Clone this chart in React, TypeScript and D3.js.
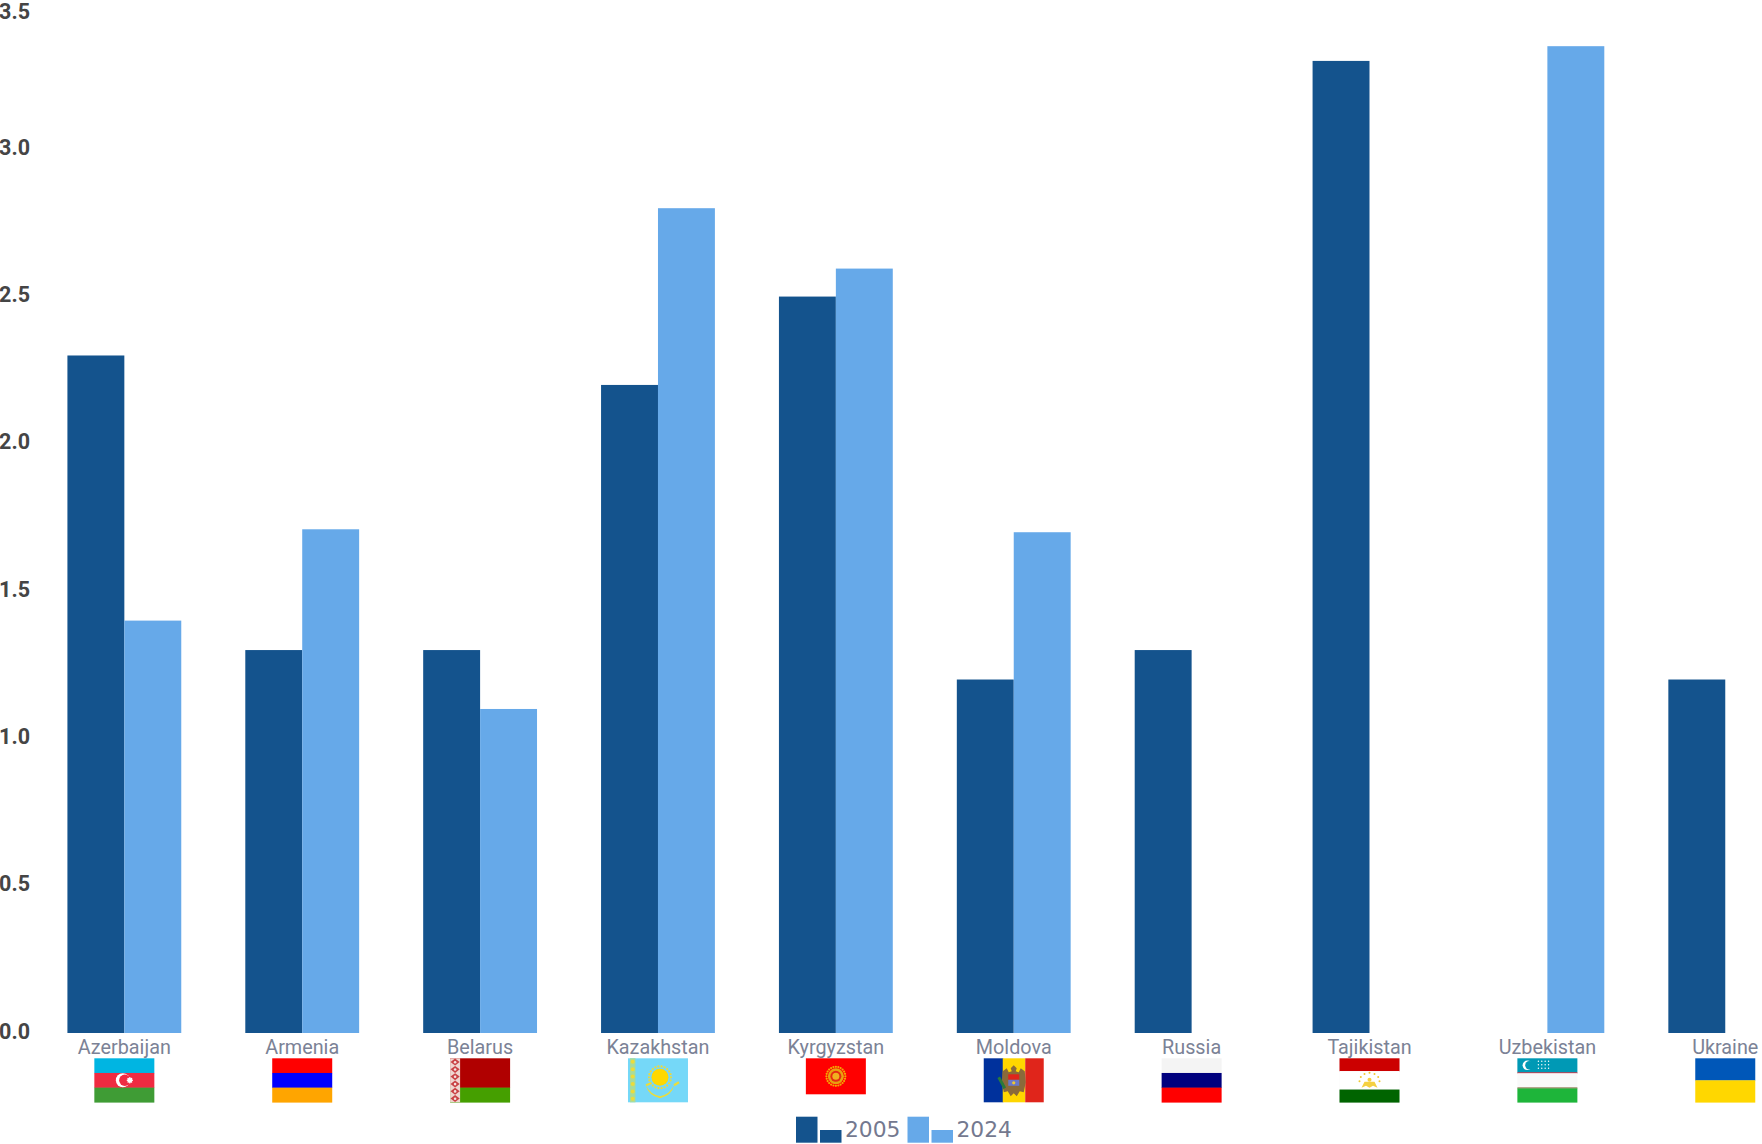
import React from "react";
import * as d3 from "d3";

const countries = ["Azerbaijan","Armenia","Belarus","Kazakhstan","Kyrgyzstan","Moldova","Russia","Tajikistan","Uzbekistan","Ukraine"];
const values2005: (number|null)[] = [2.3,1.3,1.3,2.2,2.5,1.2,1.3,3.3,null,1.2];
const values2024: (number|null)[] = [1.4,1.71,1.1,2.8,2.595,1.7,null,null,3.35,null];
const yTicks = [0,0.5,1,1.5,2,2.5,3,3.5];
const seriesYears = ["2005","2024"];
const seriesColors = ["#14538d","#66a9e9"];
const flagWidths = [60,60,60,60,60,60,60,60,60,60];
const flagHeights = [44,44,44,44,36,44,44,44,44,44];

const W = 1762, H = 1144;
const x = d3.scaleBand<string>().domain(countries).range([35.4, 1814.2]).paddingInner(0.36).paddingOuter(0.18);
const y = d3.scaleLinear().domain([0,3.5]).range([1033, 2]);
const FLAG_TOP = 1058.3;

const Stripes = ({w,h,rows}:{w:number,h:number,rows:[string,number][]}) => {
  let acc = 0;
  return <>{rows.map(([c,f],i)=>{const r=<rect key={i} x={0} y={acc*h} width={w} height={f*h+0.3} fill={c}/>;acc+=f;return r;})}</>;
};

const dots = (cx:number,cy:number,r:number,n:number,dr:number,fill:string) =>
  d3.range(n).map(i=>{const a=(i/n)*Math.PI*2;return <circle key={i} cx={cx+r*Math.cos(a)} cy={cy+r*Math.sin(a)} r={dr} fill={fill}/>;});

const Flag = ({name,w,h}:{name:string,w:number,h:number}) => {
  switch(name){
    case "Azerbaijan": return <><Stripes w={w} h={h} rows={[["#00b5e2",1/3],["#ef2b41",1/3],["#3f9c35",1/3]]}/>
      <circle cx={28.5} cy={22} r={7} fill="#fff"/><circle cx={30.5} cy={22} r={5.7} fill="#ef2b41"/>
      {dots(35.5,22,0,1,2.4,"#fff")}{dots(35.5,22,2.4,8,0.8,"#fff")}</>;
    case "Armenia": return <Stripes w={w} h={h} rows={[["#ff0000",1/3],["#0000ff",1/3],["#ffa500",1/3]]}/>;
    case "Belarus": return <><Stripes w={w} h={h} rows={[["#b00000",2/3],["#459f00",1/3]]}/>
      <rect width={10} height={h} fill="#efd6d0"/>
      {d3.range(6).map(i=><g key={i}><path d={`M5 ${i*7.3+0.3}l4.6 3.4l-4.6 3.6l-4.6 -3.6z`} fill="#c2282c" opacity={0.85}/><circle cx={5} cy={i*7.3+3.9} r={1.3} fill="#f4e4e0"/></g>)}</>;
    case "Kazakhstan": return <><rect width={w} height={h} fill="#75d8f8"/>
      <rect x={2} width={5.5} height={h} fill="#a9dc9a"/>
      {d3.range(6).map(i=><circle key={i} cx={4.7} cy={i*7.4+3.5} r={2} fill="#ecdc3a"/>)}
      <circle cx={32} cy={19} r={8.5} fill="#ffd800"/>{dots(32,19,11,22,1.1,"#ecd93c")}
      <path d="M18 27q4 9 14 11q10 -2 14 -11q-2 10 -14 13q-12 -3 -14 -13z" fill="#ecdc3a"/>
      <path d="M18 27l5 -2M46 27l5 -3" stroke="#ecdc3a" strokeWidth={2.2}/></>;
    case "Kyrgyzstan": return <><rect width={w} height={h} fill="#ff0000"/>
      {dots(30,18,9.5,24,1.1,"#f5a800")}<circle cx={30} cy={18} r={8} fill="#e8a010"/><circle cx={30} cy={18} r={5.5} fill="#e52a12"/><circle cx={30} cy={18} r={3.5} fill="#f0b020"/></>;
    case "Moldova": return <><rect width={w/3-1+0.5} height={h} fill="#00319c"/><rect x={w/3-1} width={w/3+2.5} height={h} fill="#ffd600"/><rect x={2*w/3+1.5} width={w/3-1.5} height={h} fill="#e0251b"/>
      <path d="M30 7l3 3l-1 3l3 1l2 -4l4 3l1 11l-2 10l-4 -1l-3 5l-3 -3l-3 3l-3 -5l-4 1l-2 -10l1 -11l4 -3l2 4l3 -1l-1 -3z" fill="#8a6a3a"/>
      <rect x={24.5} y={16} width={11} height={5.5} fill="#e0251b"/><rect x={24.5} y={21.5} width={11} height={6} fill="#6a78c8"/>
      <circle cx={30} cy={24.5} r={1.6} fill="#f0c830"/>
      <path d="M15 19l6 11" stroke="#2a7a3a" strokeWidth={3}/></>;
    case "Russia": return <Stripes w={w} h={h} rows={[["#f4f4f4",1/3],["#00007e",1/3],["#ff0000",1/3]]}/>;
    case "Tajikistan": return <><rect width={w} height={h} fill="#f7f7f7"/><Stripes w={w} h={h} rows={[["#cc0000",0.29],["#ffffff",0.42],["#006400",0.29]]}/>
      <path d="M22 29.5l3 -6h10l3 6l-4.5 -2l-3.5 2l-3.5 -2z" fill="#f5d040"/><circle cx={30} cy={21.5} r={2} fill="#f5d040"/>
      {d3.range(7).map(i=>{const a=Math.PI*(1+i/6);return <circle key={i} cx={30+10*Math.cos(a)} cy={23+8.5*Math.sin(a)} r={1} fill="#f0c830"/>;})}</>;
    case "Uzbekistan": return <><Stripes w={w} h={h} rows={[["#0099b5",0.32],["#ce1126",0.02],["#f9f9f9",0.32],["#8f7a55",0.025],["#1eb53a",0.315]]}/>
      <circle cx={10} cy={7} r={4.8} fill="#fff"/><circle cx={12} cy={7} r={4.2} fill="#0099b5"/>
      {d3.range(12).map(i=><circle key={i} cx={21+(i%4)*3.4} cy={3+Math.floor(i/4)*3.5} r={0.7} fill="#fff"/>)}</>;
    case "Ukraine": return <Stripes w={w} h={h} rows={[["#0057b8",0.5],["#ffd700",0.5]]}/>;
    default: return null;
  }
};

const labelFont = "Roboto, sans-serif";

export default function App(){
  const bw = x.bandwidth()/2;
  const legendItems = seriesYears.map((yr,i)=>({yr,color:seriesColors[i],x0:796+i*111.5}));
  return (
    <svg width={W} height={H} viewBox={`0 0 ${W} ${H}`} style={{position:"absolute",left:0,top:0,display:"block",background:"#fff"}}>
      {yTicks.map(t=>(
        <text key={t} x={30} y={t===3.5?19:y(t)+5.5} textAnchor="end" fontFamily={labelFont} fontWeight={700} fontSize={21.5} fill="#454545">{t.toFixed(1)}</text>
      ))}
      {countries.map((c,i)=>{
        const left = x(c)!;
        const a = values2005[i], b = values2024[i];
        return <g key={c}>
          {a!==null && <rect x={left} y={y(a)} width={bw} height={y(0)-y(a)} fill={seriesColors[0]}/>}
          {b!==null && <rect x={left+bw} y={y(b)} width={bw} height={y(0)-y(b)} fill={seriesColors[1]}/>}
        </g>;
      })}
      {countries.map((c,i)=>{
        const cx = x(c)!+bw;
        const w = flagWidths[i], h = flagHeights[i];
        return <g key={c}>
          <text x={cx} y={1053.5} textAnchor="middle" fontFamily={labelFont} fontSize={19.8} fill="#7b8296">{c}</text>
          <g transform={`translate(${cx-w/2},${FLAG_TOP})`}><Flag name={c} w={w} h={h}/></g>
        </g>;
      })}
      {legendItems.map(l=>(
        <g key={l.yr}>
          <rect x={l.x0} y={1116.7} width={21.5} height={26} fill={l.color}/>
          <rect x={l.x0+24} y={1130} width={21.5} height={12.7} fill={l.color}/>
          <text x={l.x0+49} y={1137} fontFamily="'DejaVu Sans', sans-serif" fontSize={21.8} fill="#74798f">{l.yr}</text>
        </g>
      ))}
    </svg>
  );
}
